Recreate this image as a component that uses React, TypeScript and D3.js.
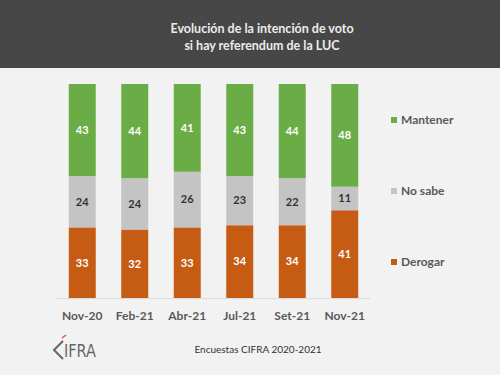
import React from "react";
import * as d3 from "d3";

const categories = ["Nov-20", "Feb-21", "Abr-21", "Jul-21", "Set-21", "Nov-21"];
const derogar = [33, 32, 33, 34, 34, 41];
const noSabe = [24, 24, 26, 23, 22, 11];
const mantener = [43, 44, 41, 43, 44, 48];
const seriesNames = ["Derogar", "No sabe", "Mantener"];
const seriesColors = ["#c65b14", "#c4c4c4", "#6aad46"];
const labelColors = ["#ffffff", "#333333", "#ffffff"];
const legendY = [262, 191, 120];

const W = 500;
const H = 375;

export default function App() {
  const x = d3.scaleBand<string>().domain(categories).range([56, 371]).paddingInner(0.486).paddingOuter(0.243);
  const y = d3.scaleLinear().domain([0, 100]).range([298, 84]);
  const rows = categories.map((c, i) => ({ cat: c, Derogar: derogar[i], "No sabe": noSabe[i], Mantener: mantener[i] }));
  const stacked = d3.stack<any>().keys(seriesNames)(rows);
  const font = "Lato, 'Open Sans', sans-serif";

  return (
    <svg width={W} height={H} style={{ position: "absolute", left: 0, top: 0 }} fontFamily={font}>
      <rect x={0} y={0} width={W} height={H} fill="#f2f2f2" />
      <rect x={0} y={0} width={W} height={68} fill="#474747" />
      <text x={262} y={33} textAnchor="middle" fill="#ececec" fontSize={12.5} fontWeight="bold">Evolución de la intención de voto</text>
      <text x={262} y={50} textAnchor="middle" fill="#ececec" fontSize={12.5} fontWeight="bold">si hay referendum de la LUC</text>

      {stacked.map((s, si) => (
        <g key={s.key}>
          {s.map((d, i) => {
            const x0 = x(categories[i])!;
            const y0 = y(d[1]);
            const y1 = y(d[0]);
            return (
              <g key={i}>
                <rect x={x0} y={y0} width={x.bandwidth()} height={y1 - y0} fill={seriesColors[si]} />
                <text x={x0 + x.bandwidth() / 2} y={(y0 + y1) / 2} dy="0.35em" textAnchor="middle" fontSize={11} fontWeight="bold" fill={labelColors[si]}>
                  {d[1] - d[0]}
                </text>
              </g>
            );
          })}
        </g>
      ))}
      <line x1={55} x2={370} y1={298.5} y2={298.5} stroke="#dcdcdc" strokeWidth={1} />
      {categories.map((c) => (
        <text key={c} x={x(c)! + x.bandwidth() / 2} y={320} textAnchor="middle" fontSize={12} fontWeight="bold" fill="#595959">{c}</text>
      ))}

      {seriesNames.map((n, i) => (
        <g key={n}>
          <rect x={391} y={legendY[i] - 3} width={6} height={6} fill={seriesColors[i]} />
          <text x={401} y={legendY[i]} dy="0.35em" fontSize={12} fontWeight="bold" fill="#595959">{n}</text>
        </g>
      ))}

      <text x={258} y={353} textAnchor="middle" fontSize={10} fill="#333333">Encuestas CIFRA 2020-2021</text>

      <g>
        <path d="M63,341 L54,350 L63,359" fill="none" stroke="#666666" strokeWidth={2} />
        <path d="M62,338 L66,335" stroke="#d9534f" strokeWidth={1.5} />
        <text x={64} y={357} fontSize={17} fill="#666666" textLength={32} lengthAdjust="spacingAndGlyphs" fontFamily="'DejaVu Sans', sans-serif" fontWeight="normal">IFRA</text>
      </g>
    </svg>
  );
}
